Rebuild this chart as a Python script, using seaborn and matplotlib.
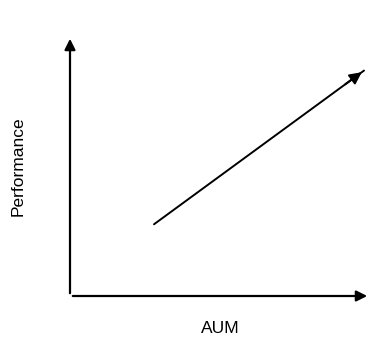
import seaborn as sns
from matplotlib import pyplot as plt
import pandas as pd

# conceptual trend: performance rises with AUM
aum = [2.8, 9.8]
performance = [2.8, 8.8]

x_label = "AUM"
y_label = "Performance"

sns.set_style("white")
plt.rcParams['font.family'] = ['Liberation Sans', 'DejaVu Sans']

fig = plt.figure(figsize=(3.7, 3.46), dpi=100)
ax = fig.add_axes([70 / 370, 50 / 346, 300 / 370, 260 / 346])
ax.set_xlim(0, 10)
ax.set_ylim(0, 10.15)

data = pd.DataFrame({"aum": aum, "performance": performance})
sns.lineplot(x="aum", y="performance", data=data, color="black", linewidth=1.4, ax=ax)

# arrowhead on the trend line
ax.annotate("", xy=(aum[1], performance[1]), xytext=(aum[1] - 0.7, performance[1] - 0.6),
            arrowprops=dict(arrowstyle="-|>", color="black", lw=1.4, mutation_scale=18))

# axes drawn as arrows
for s in ax.spines.values():
    s.set_visible(False)
ax.annotate("", xy=(1.0, 0), xytext=(0, 0), xycoords="axes fraction",
            arrowprops=dict(arrowstyle="-|>", color="black", lw=1.6, mutation_scale=16))
ax.annotate("", xy=(0, 1.0), xytext=(0, 0), xycoords="axes fraction",
            arrowprops=dict(arrowstyle="-|>", color="black", lw=1.6, mutation_scale=16))

ax.set_xticks([])
ax.set_yticks([])
ax.set_xlabel(x_label, fontsize=12.5, color="black", labelpad=18)
ax.set_ylabel(y_label, fontsize=12.5, color="black", labelpad=32)

fig.savefig("out.png", dpi=100)
